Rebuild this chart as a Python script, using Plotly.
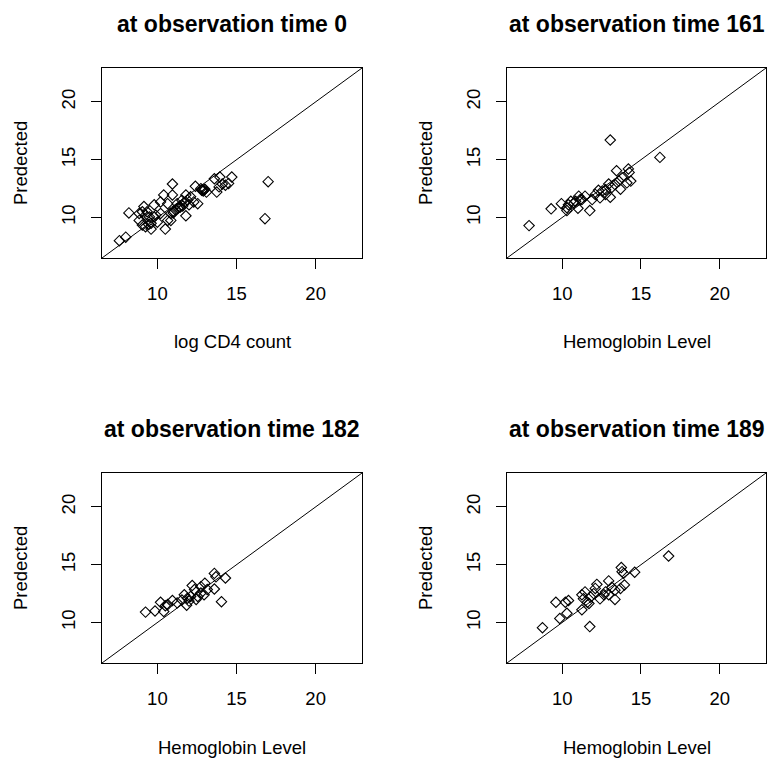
import plotly.graph_objects as go

# ---------------- data ----------------
titles = ["at observation time 0", "at observation time 161",
          "at observation time 182", "at observation time 189"]
xlabels = ["log CD4 count", "Hemoglobin Level", "Hemoglobin Level", "Hemoglobin Level"]
ylabel = "Predected"
tick_vals = [10, 15, 20]
axis_range = [6.5, 22.93]

x_t0 = [17.0, 16.8, 7.6, 8.0, 8.2, 14.7, 10.95, 10.5, 11.8, 9.6, 13.6, 13.95, 13.75, 13.9,
        12.85, 12.4, 13.1, 12.55, 12.3, 11.9, 11.25, 11.45, 11.15, 10.85, 10.65, 10.85, 10.4,
        10.95, 10.65, 10.2, 9.8, 9.15, 9.05, 8.85, 9.35, 8.85, 9.05, 9.25, 9.6, 10.0, 9.9,
        10.2, 9.8, 9.5, 9.25, 11.05, 11.55, 12.1, 11.8, 12.75, 12.95, 14.3, 14.1, 14.5, 12.9,
        11.3, 11.6, 11.0, 12.0, 9.45, 12.8, 13.0, 11.4, 11.7]
y_t0 = [13.1, 9.9, 8.0, 8.3, 10.4, 13.5, 12.9, 9.0, 10.15, 9.0, 13.35, 13.5, 12.2, 12.65,
        12.4, 12.7, 12.2, 11.2, 11.35, 11.5, 11.2, 10.9, 10.65, 10.35, 9.75, 9.75, 11.95,
        11.95, 11.2, 11.35, 11.1, 10.95, 10.5, 10.35, 10.5, 9.75, 9.35, 9.2, 9.5, 9.6, 10.2,
        10.35, 10.05, 10.05, 10.2, 10.5, 11.5, 11.8, 11.95, 12.5, 12.4, 12.8, 12.9, 12.95, 12.3,
        10.8, 11.0, 10.4, 11.1, 9.4, 12.35, 12.45, 10.9, 11.3]

x_t161 = [13.05, 16.2, 7.9, 9.3, 9.95, 10.3, 11.75, 11.0, 10.55, 11.05, 11.25, 10.75, 11.9,
          12.4, 12.55, 12.3, 12.75, 13.05, 12.95, 13.15, 13.45, 13.6, 13.7, 13.8, 14.2, 14.25,
          14.35, 14.1, 13.35, 12.75, 12.1, 11.45, 11.15, 10.85, 10.4, 10.3]
y_t161 = [16.7, 15.2, 9.3, 10.75, 11.2, 10.6, 10.6, 10.8, 11.4, 11.85, 11.55, 11.25, 11.55,
          11.7, 12.3, 12.35, 12.4, 11.75, 12.9, 12.6, 14.05, 13.15, 12.45, 13.45, 14.2, 13.9,
          13.15, 13.0, 12.85, 12.0, 12.0, 11.85, 11.55, 11.4, 11.1, 10.85]

x_t182 = [9.25, 9.85, 10.2, 10.5, 10.4, 10.95, 11.55, 11.9, 11.85, 12.2, 12.35, 12.55, 12.75,
          13.0, 13.15, 13.6, 13.7, 14.3, 13.6, 14.05, 12.1, 12.45, 12.0, 12.75, 12.95, 11.25,
          10.65, 11.7]
y_t182 = [10.9, 11.0, 11.75, 11.45, 10.95, 11.9, 11.95, 12.1, 11.5, 13.2, 12.85, 12.25, 12.55,
          13.4, 12.85, 14.25, 13.95, 13.85, 12.9, 11.8, 12.25, 12.0, 11.85, 13.1, 12.4, 11.7,
          11.55, 12.4]

x_t189 = [16.75, 8.75, 9.6, 10.2, 10.4, 9.85, 10.3, 11.25, 11.75, 11.25, 11.35, 11.6, 11.8,
          12.2, 12.0, 12.4, 12.95, 12.75, 13.15, 13.35, 13.75, 13.8, 13.9, 14.6, 13.95, 13.7,
          13.35, 12.95, 12.65, 11.7, 11.45, 12.1]
y_t189 = [15.75, 9.55, 11.75, 11.75, 11.9, 10.35, 10.8, 11.1, 9.65, 12.4, 12.05, 11.75, 12.2,
          13.3, 12.5, 12.05, 13.6, 12.65, 13.05, 12.0, 14.75, 14.4, 14.25, 14.35, 13.25, 12.95,
          12.8, 12.4, 12.4, 11.65, 12.65, 12.95]

series = [(x_t0, y_t0), (x_t161, y_t161), (x_t182, y_t182), (x_t189, y_t189)]

# ---------------- layout ----------------
W, H = 767, 760
# panel boxes in pixels (left, right, top, bottom)
boxes = [(102, 362, 68, 258), (507, 766, 68, 258),
         (102, 362, 473, 663), (507, 766, 473, 663)]

FONT = "Liberation Sans, Arial, sans-serif"
fig = go.Figure()
annotations = []
layout_axes = {}

for i, ((xs, ys), (l, r, t, b)) in enumerate(zip(series, boxes)):
    n = i + 1
    xa = "x" if n == 1 else f"x{n}"
    ya = "y" if n == 1 else f"y{n}"
    fig.add_trace(go.Scatter(
        x=xs, y=ys, mode="markers", xaxis=xa, yaxis=ya,
        marker=dict(symbol="diamond-open", size=8, color="black",
                    line=dict(width=1.1, color="black")),
        hoverinfo="x+y"))
    fig.add_trace(go.Scatter(
        x=axis_range, y=axis_range, mode="lines", xaxis=xa, yaxis=ya,
        line=dict(color="black", width=1), hoverinfo="skip"))

    common = dict(range=axis_range, showgrid=False, zeroline=False,
                  showline=True, mirror=True, linecolor="black", linewidth=1,
                  ticks="outside", ticklen=10, tickwidth=1, tickcolor="black",
                  tickvals=tick_vals, tickfont=dict(family=FONT, size=18.5, color="black"))
    layout_axes["xaxis" if n == 1 else f"xaxis{n}"] = dict(
        common, domain=[l / W, r / W], anchor=ya, ticklabelstandoff=9)
    layout_axes["yaxis" if n == 1 else f"yaxis{n}"] = dict(
        common, domain=[1 - b / H, 1 - t / H], anchor=xa, tickangle=-90,
        ticklabelstandoff=9)

    cx = (l + r) / 2
    cy = (t + b) / 2
    annotations.append(dict(text=f"<b>{titles[i]}</b>", x=cx / W, y=1 - (t - 44) / H,
                            xref="paper", yref="paper", xanchor="center", yanchor="middle",
                            showarrow=False, font=dict(family=FONT, size=23, color="black")))
    annotations.append(dict(text=xlabels[i], x=cx / W, y=1 - (b + 84) / H,
                            xref="paper", yref="paper", xanchor="center", yanchor="middle",
                            showarrow=False, font=dict(family=FONT, size=18.5, color="black")))
    annotations.append(dict(text=ylabel, x=(l - 82) / W, y=1 - cy / H, textangle=-90,
                            xref="paper", yref="paper", xanchor="center", yanchor="middle",
                            showarrow=False, font=dict(family=FONT, size=18.5, color="black")))

fig.update_layout(
    width=W, height=H, margin=dict(l=0, r=0, t=0, b=0),
    paper_bgcolor="white", plot_bgcolor="white", showlegend=False,
    annotations=annotations, **layout_axes)

fig.write_html("out.html")
